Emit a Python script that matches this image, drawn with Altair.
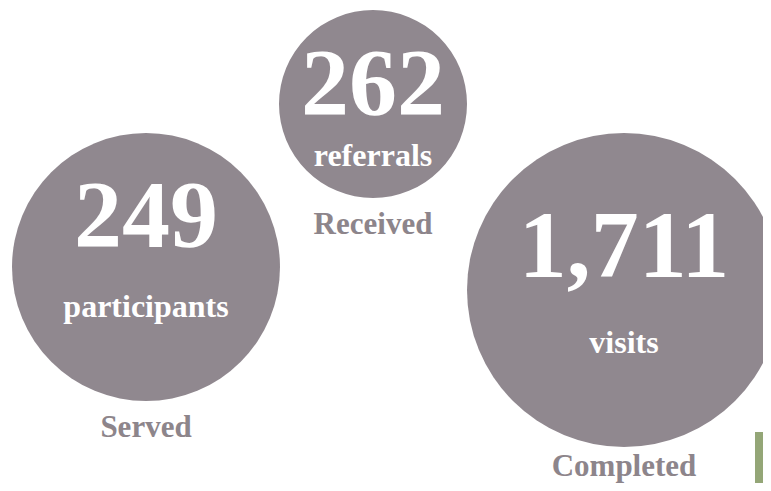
import altair as alt
import pandas as pd

# Data
values = ["249", "262", "1,711"]
units = ["participants", "referrals", "visits"]
labels = ["Served", "Received", "Completed"]

# Layout (page pixel coordinates used as scale domain)
cx = [146, 373, 624]
cy = [267, 104, 290]
radius = [134, 94, 157]
value_base = [247, 115, 277]
unit_base = [317, 166, 353]
label_base = [437, 234, 476]

CIRCLE = "#90888f"
LABEL = "#8d858b"
GREEN = "#94a677"
FONT = "Liberation Serif"

df = pd.DataFrame({
    "value": values, "unit": units, "label": labels,
    "cx": cx, "cy": cy, "r": radius,
    "vb": value_base, "ub": unit_base, "lb": label_base,
})
df["size"] = (2 * df["r"]) ** 2

W, H = 755, 475
xs = alt.Scale(domain=[8, 8 + W], range=[0, W], nice=False, zero=False)
ys = alt.Scale(domain=[8, 8 + H], range=[0, H], nice=False, zero=False)

base = alt.Chart(df)

circles = base.mark_circle(color=CIRCLE, opacity=1, clip=True).encode(
    x=alt.X("cx:Q", scale=xs, axis=None),
    y=alt.Y("cy:Q", scale=ys, axis=None),
    size=alt.Size("size:Q", scale=None, legend=None),
)

nums = base.mark_text(font=FONT, fontWeight="bold", fontSize=96, color="white",
                      align="center", baseline="alphabetic").encode(
    x=alt.X("cx:Q", scale=xs, axis=None),
    y=alt.Y("vb:Q", scale=ys, axis=None),
    text="value:N",
)

unit_t = base.mark_text(font=FONT, fontWeight="bold", fontSize=32, color="white",
                        align="center", baseline="alphabetic").encode(
    x=alt.X("cx:Q", scale=xs, axis=None),
    y=alt.Y("ub:Q", scale=ys, axis=None),
    text="unit:N",
)

label_t = base.mark_text(font=FONT, fontWeight="bold", fontSize=31, color=LABEL,
                         align="center", baseline="alphabetic").encode(
    x=alt.X("cx:Q", scale=xs, axis=None),
    y=alt.Y("lb:Q", scale=ys, axis=None),
    text="label:N",
)

deco = pd.DataFrame({"x1": [755], "x2": [790], "y1": [432], "y2": [500]})
rect = alt.Chart(deco).mark_rect(color=GREEN, clip=True).encode(
    x=alt.X("x1:Q", scale=xs, axis=None),
    x2="x2:Q",
    y=alt.Y("y1:Q", scale=ys, axis=None),
    y2="y2:Q",
)

chart = alt.layer(circles, rect, nums, unit_t, label_t).properties(
    width=W, height=H, padding=0, autosize=alt.AutoSizeParams(type="none"),
    background="white",
).configure_view(stroke=None)

chart.save("out.html", embed_options={"renderer": "svg", "actions": False})
